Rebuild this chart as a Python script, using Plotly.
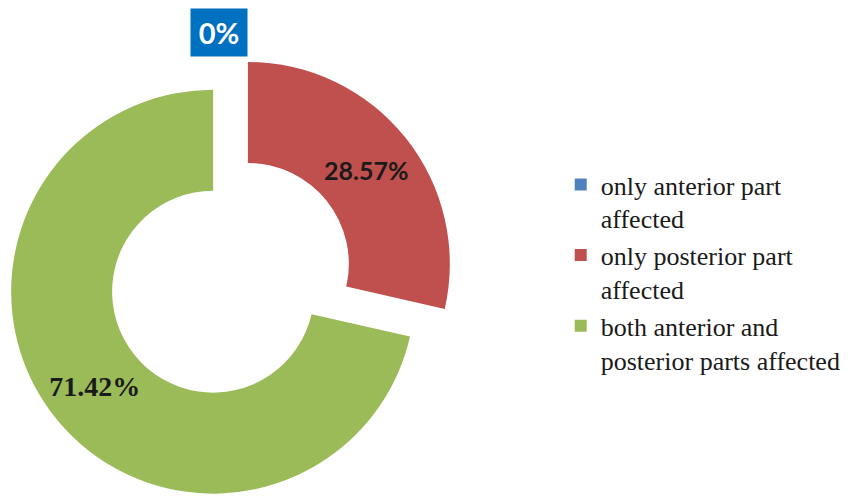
import plotly.graph_objects as go

# Share of cases by affected part
labels = [
    "only anterior part<br>affected",
    "only posterior part<br>affected",
    "both anterior and<br>posterior parts affected",
]
values = [0, 28.57, 71.42]
colors = ["#4f81bd", "#c0504d", "#9bbb59"]
pulls = [0, 0.11, 0.11]
label_fonts = ["Lato", "Lato", "Liberation Serif"]
label_sizes = [25, 25, 28]

fig = go.Figure(
    go.Pie(
        labels=labels,
        values=values,
        sort=False,
        direction="clockwise",
        rotation=0,
        hole=0.5,
        pull=pulls,
        marker=dict(colors=colors, line=dict(width=0)),
        texttemplate="<b>%{value}%</b>",
        textposition="inside",
        insidetextorientation="horizontal",
        textfont=dict(family=label_fonts, size=label_sizes, color="#1a1a1a"),
        domain=dict(x=[0.00733, 0.5287], y=[0, 0.8932]),
        showlegend=True,
    )
)

# The zero share has no visible slice, so its label sits in a box above the ring
fig.add_annotation(
    x=0.2547, y=0.9343, xref="paper", yref="paper",
    xanchor="center", yanchor="middle",
    text=f"<b>{values[0]:g}%</b>",
    showarrow=False,
    font=dict(family="Lato", size=29, color="white"),
    bgcolor="#0070c0",
    width=56, height=47, borderpad=0,
)

fig.update_layout(
    width=860, height=502,
    margin=dict(l=0, r=0, t=0, b=0),
    paper_bgcolor="white",
    plot_bgcolor="white",
    legend=dict(
        x=0.652, y=0.458, xanchor="left", yanchor="middle",
        valign="top",
        font=dict(family="Liberation Serif", size=26, color="#1a1a1a"),
        tracegroupgap=0,
    ),
)

fig.write_html("out.html")
